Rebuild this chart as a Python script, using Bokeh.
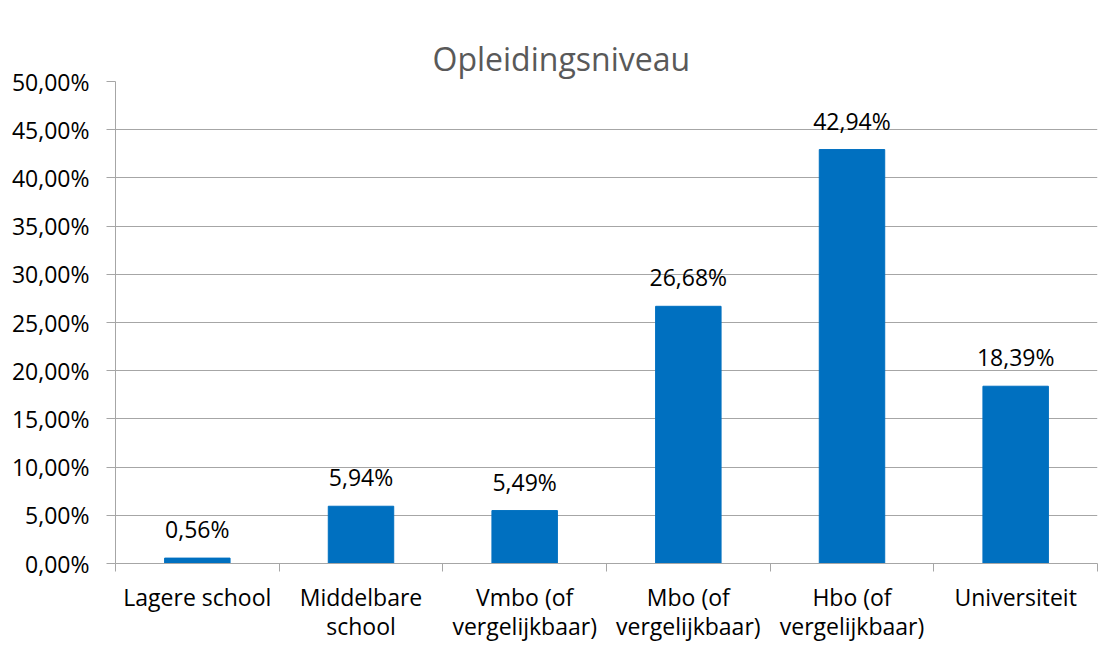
from bokeh.plotting import figure
from bokeh.models import ColumnDataSource, FixedTicker, LabelSet, Range1d, Title
from bokeh.core.properties import value
from bokeh.embed import file_html
from bokeh.resources import INLINE

title_text = "Opleidingsniveau"
categories = ["Lagere school", "Middelbare\nschool", "Vmbo (of\nvergelijkbaar)",
              "Mbo (of\nvergelijkbaar)", "Hbo (of\nvergelijkbaar)", "Universiteit"]
values = [0.56, 5.94, 5.49, 26.68, 42.94, 18.39]
value_labels = ["0,56%", "5,94%", "5,49%", "26,68%", "42,94%", "18,39%"]
y_ticks = [0, 5, 10, 15, 20, 25, 30, 35, 40, 45, 50]
y_tick_labels = ["0,00%", "5,00%", "10,00%", "15,00%", "20,00%", "25,00%",
                 "30,00%", "35,00%", "40,00%", "45,00%", "50,00%"]

n = len(categories)
centers = [i + 0.5 for i in range(n)]
source = ColumnDataSource(dict(x=centers, top=values, label=value_labels))

FONT = "Open Sans"
BLUE = "#0070C0"
GREY = "#A6A6A6"
W, H = 1098, 645

p = figure(width=W, height=H, output_backend="svg", toolbar_location=None, title=None,
           x_range=Range1d(0, n), y_range=Range1d(0, 50),
           min_border_left=115, min_border_right=1, min_border_top=81, min_border_bottom=80)
p.outline_line_color = None

p.vbar(x="x", top="top", width=0.4, source=source, fill_color=BLUE, line_color=BLUE)

labels = LabelSet(x="x", y="top", text="label", source=source, text_align="center",
                  text_baseline="alphabetic", y_offset=20, text_font=value(FONT),
                  text_font_size="23px", text_color="#000000")
p.add_layout(labels)

# the title first (outermost), then a spacer panel between it and the frame
p.add_layout(Title(text=title_text, align="left", offset=317, vertical_align="top",
                   standoff=0, text_font=FONT, text_font_size="32px",
                   text_font_style="normal", text_color="#595959"), "above")
p.add_layout(Title(text=" ", standoff=34, text_font_size="1px", text_color=None), "above")

# y axis
p.yaxis.ticker = FixedTicker(ticks=y_ticks)
p.yaxis.major_label_overrides = {t: l for t, l in zip(y_ticks, y_tick_labels)}
p.yaxis.major_label_text_font = FONT
p.yaxis.major_label_text_font_size = "23px"
p.yaxis.major_label_text_color = "#000000"
p.yaxis.major_tick_out = 9
p.yaxis.major_tick_in = 0
p.yaxis.minor_tick_line_color = None
p.yaxis.major_tick_line_color = GREY
p.yaxis.axis_line_color = GREY
p.yaxis.major_label_standoff = 17

# x axis
p.xaxis.ticker = FixedTicker(ticks=centers, minor_ticks=list(range(n + 1)))
p.xaxis.major_label_overrides = {c: l for c, l in zip(centers, categories)}
p.xaxis.major_label_text_font = FONT
p.xaxis.major_label_text_font_size = "23px"
p.xaxis.major_label_text_line_height = 0.93
p.xaxis.major_label_text_color = "#000000"
p.xaxis.major_tick_line_color = None
p.xaxis.major_tick_out = 0
p.xaxis.major_tick_in = 0
p.xaxis.minor_tick_out = 8
p.xaxis.minor_tick_in = 0
p.xaxis.minor_tick_line_color = GREY
p.xaxis.axis_line_color = GREY
p.xaxis.major_label_standoff = 9

p.xgrid.grid_line_color = None
p.ygrid.grid_line_color = GREY
p.ygrid.grid_line_width = 1

open("out.html", "w").write(file_html(p, INLINE))
